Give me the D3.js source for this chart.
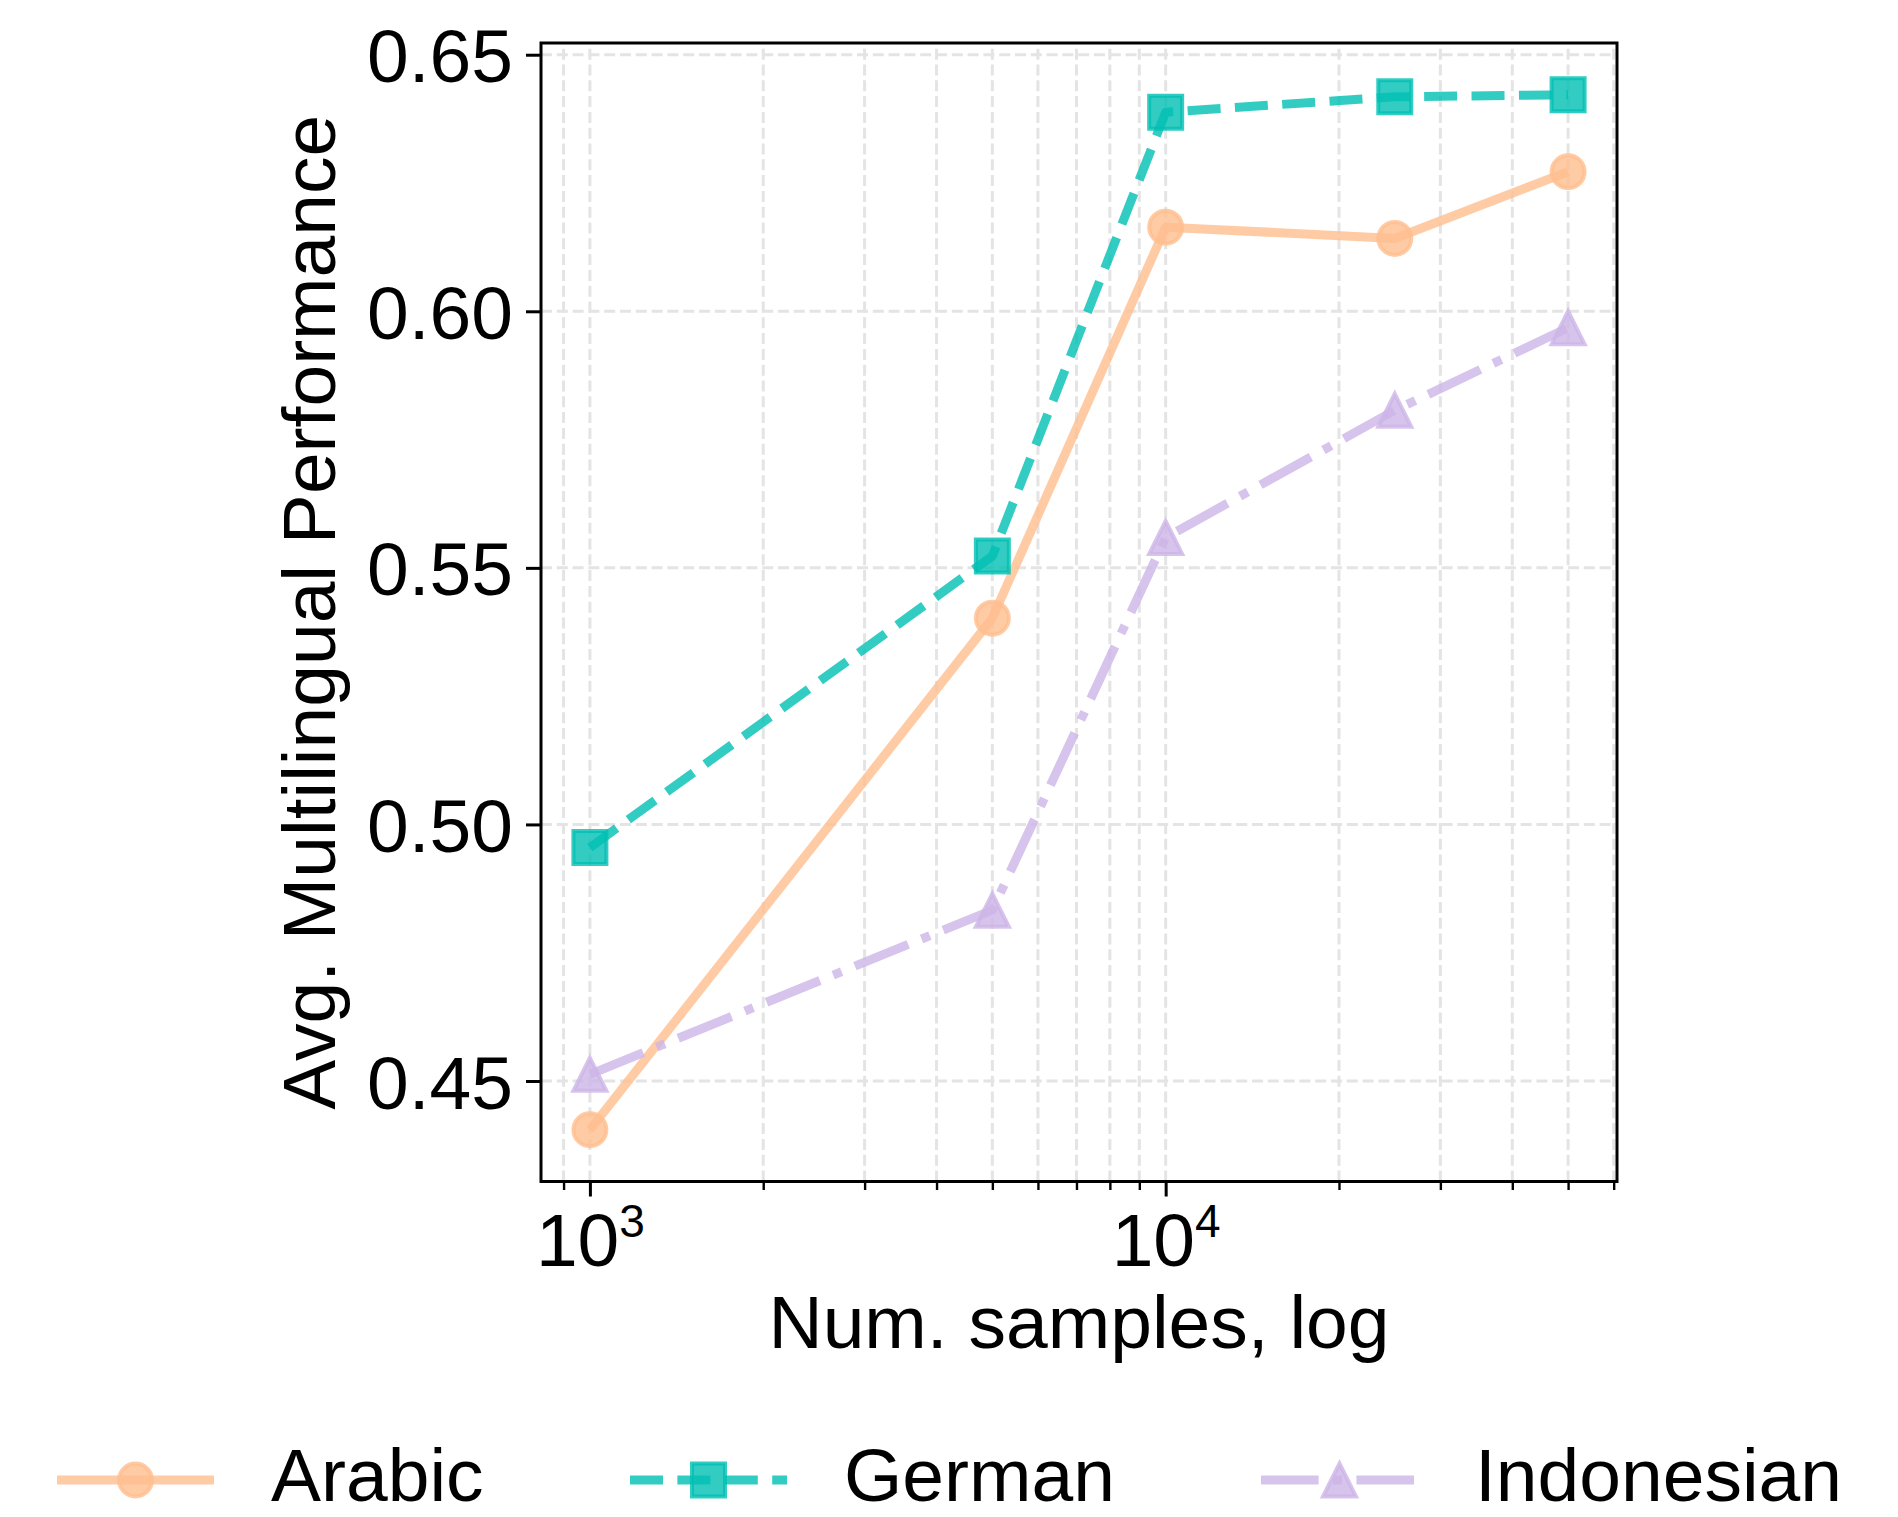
<!DOCTYPE html>
<html>
<head>
<meta charset="utf-8">
<script src="https://cdn.jsdelivr.net/npm/d3@7"></script>
<style>
  body { margin: 0; background: #fff; }
  svg text { font-family: "Liberation Sans", Arial, Helvetica, sans-serif; fill: #000; }
</style>
</head>
<body>
<svg id="chart" width="1898" height="1517"></svg>
<script>
// data
const samples = [1000, 5000, 10000, 25000, 50000];
const arabic = [0.4405, 0.5402, 0.6164, 0.6142, 0.6272];
const german = [0.4955, 0.5523, 0.6388, 0.6418, 0.6422];
const indonesian = [0.4513, 0.4833, 0.5559, 0.5807, 0.5968];
const seriesNames = ["Arabic", "German", "Indonesian"];
const yTicks = [0.45, 0.50, 0.55, 0.60, 0.65];
const xMajor = [1000, 10000];

const colors = { Arabic: "#FFBE8E", German: "#00BFB3", Indonesian: "#CDB5E7" };
const dashes = { Arabic: null, German: "33,14.4", Indonesian: "57.6,14.4,9,14.4" };
const symbols = { Arabic: "circle", German: "square", Indonesian: "triangle" };
const values = { Arabic: arabic, German: german, Indonesian: indonesian };

const svg = d3.select("#chart");
const plotLeft = 541, plotRight = 1617, plotTop = 43, plotBottom = 1181.5;
const fontSize = 75;

// matplotlib style 5% margins (log on x)
const lx0 = Math.log10(d3.min(samples)), lx1 = Math.log10(d3.max(samples));
const padX = (lx1 - lx0) * 0.05;
const x = d3.scaleLog()
    .domain([Math.pow(10, lx0 - padX), Math.pow(10, lx1 + padX)])
    .range([plotLeft, plotRight]);

const allY = arabic.concat(german, indonesian);
const y0 = d3.min(allY), y1 = d3.max(allY);
const padY = (y1 - y0) * 0.05;
const y = d3.scaleLinear()
    .domain([y0 - padY, y1 + padY])
    .range([plotBottom, plotTop]);

// minor ticks on the log axis
const xMinor = [];
for (let p = 2; p <= 5; p++) {
    for (let m = 2; m <= 9; m++) {
        const v = m * Math.pow(10, p);
        if (v >= x.domain()[0] && v <= x.domain()[1]) xMinor.push(v);
    }
}

// grid
const grid = svg.append("g").attr("class", "grid")
    .attr("stroke", "#e4e4e4").attr("stroke-width", 3)
    .attr("stroke-dasharray", "11,4.8").attr("fill", "none");

grid.selectAll("line.gx")
    .data(xMajor.concat(xMinor))
    .enter().append("line")
    .attr("class", "gx")
    .attr("x1", d => x(d)).attr("x2", d => x(d))
    .attr("y1", plotBottom).attr("y2", plotTop);

grid.selectAll("line.gy")
    .data(yTicks)
    .enter().append("line")
    .attr("class", "gy")
    .attr("x1", plotLeft).attr("x2", plotRight)
    .attr("y1", d => y(d)).attr("y2", d => y(d));

// axes
const xAxis = svg.append("g")
    .attr("transform", `translate(0,${plotBottom})`)
    .call(d3.axisBottom(x).tickValues(xMajor).tickSize(15).tickFormat(""));
xAxis.select(".domain").remove();
xAxis.selectAll(".tick line").attr("stroke", "#000").attr("stroke-width", 3);

// exponent labels 10^n
xAxis.selectAll(".tick text").each(function(d) {
    const t = d3.select(this)
        .attr("y", 84).attr("dy", null)
        .attr("font-size", fontSize)
        .attr("fill", "#000")
        .attr("text-anchor", "middle");
    t.append("tspan").text("10");
    t.append("tspan").attr("dy", -29).attr("font-size", 46).text(Math.round(Math.log10(d)));
});

const xMinorAxis = svg.append("g")
    .attr("transform", `translate(0,${plotBottom})`)
    .call(d3.axisBottom(x).tickValues(xMinor).tickSize(8.5).tickFormat(""));
xMinorAxis.select(".domain").remove();
xMinorAxis.selectAll(".tick line").attr("stroke", "#000").attr("stroke-width", 2.4);

const yAxis = svg.append("g")
    .attr("transform", `translate(${plotLeft},0)`)
    .call(d3.axisLeft(y).tickValues(yTicks).tickSize(15).tickPadding(13)
        .tickFormat(d3.format(".2f")));
yAxis.select(".domain").remove();
yAxis.selectAll(".tick line").attr("stroke", "#000").attr("stroke-width", 3);
yAxis.selectAll(".tick text")
    .attr("font-size", fontSize)
    .attr("font-family", "Liberation Sans, Arial, sans-serif")
    .attr("fill", "#000")
    .attr("dy", "0.36em");

// axis titles
svg.append("text")
    .attr("x", (plotLeft + plotRight) / 2).attr("y", 1348)
    .attr("text-anchor", "middle")
    .attr("font-size", fontSize)
    .text("Num. samples, log");

svg.append("text")
    .attr("transform", `translate(335,${(plotTop + plotBottom) / 2}) rotate(-90)`)
    .attr("text-anchor", "middle")
    .attr("font-size", fontSize)
    .text("Avg. Multilingual Performance");

// markers
const markerPath = {
    circle: d3.symbol().type(d3.symbolCircle).size(Math.PI * 16.5 * 16.5),
    square: () => "M-16.5,-16.5H16.5V16.5H-16.5Z",
    triangle: () => "M0,-16.5L16.5,16.5L-16.5,16.5Z"
};

const line = d3.line()
    .x((d, i) => x(samples[i]))
    .y(d => y(d));

const plot = svg.append("g");
seriesNames.forEach(name => {
    const g = plot.append("g");
    g.append("path")
        .datum(values[name])
        .attr("d", line)
        .attr("fill", "none")
        .attr("stroke", colors[name])
        .attr("stroke-opacity", 0.8)
        .attr("stroke-width", 9)
        .attr("stroke-linejoin", "round")
        .attr("stroke-dasharray", dashes[name]);
    g.selectAll("path.mk")
        .data(values[name])
        .enter().append("path")
        .attr("class", "mk")
        .attr("transform", (d, i) => `translate(${x(samples[i])},${y(d)})`)
        .attr("d", markerPath[symbols[name]])
        .attr("fill", colors[name]).attr("fill-opacity", 0.8)
        .attr("stroke", colors[name]).attr("stroke-opacity", 0.8)
        .attr("stroke-width", 4);
});

// frame
svg.append("rect")
    .attr("x", plotLeft).attr("y", plotTop)
    .attr("width", plotRight - plotLeft).attr("height", plotBottom - plotTop)
    .attr("fill", "none").attr("stroke", "#000").attr("stroke-width", 3);

// legend (sits at the bottom edge like the original)
const legendX = [57, 630, 1261];
const legendY = 1480;
const handleLen = 157;
const legend = svg.append("g");
seriesNames.forEach((name, i) => {
    const g = legend.append("g").attr("transform", `translate(${legendX[i]},${legendY})`);
    g.append("line")
        .attr("x1", 0).attr("x2", handleLen)
        .attr("stroke", colors[name]).attr("stroke-opacity", 0.8)
        .attr("stroke-width", 9)
        .attr("stroke-dasharray", dashes[name]);
    g.append("path")
        .attr("transform", `translate(${handleLen / 2},0)`)
        .attr("d", markerPath[symbols[name]])
        .attr("fill", colors[name]).attr("fill-opacity", 0.8)
        .attr("stroke", colors[name]).attr("stroke-opacity", 0.8)
        .attr("stroke-width", 4);
    g.append("text")
        .attr("x", 214).attr("y", 21)
        .attr("font-size", fontSize)
        .text(name);
});
</script>
</body>
</html>
